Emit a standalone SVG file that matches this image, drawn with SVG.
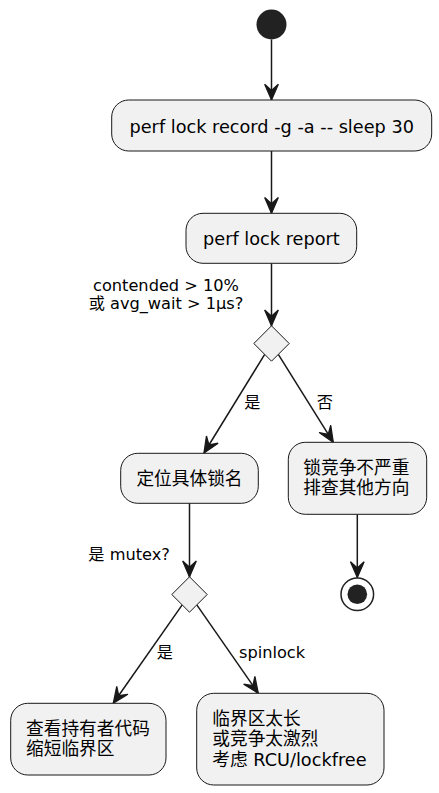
<svg xmlns="http://www.w3.org/2000/svg" width="439" height="793" viewBox="0 0 439 793">
<style>
  .node { fill: #F1F1F1; stroke: #181818; stroke-width: 1; }
  .t { font-family: "DejaVu Sans", "Noto Sans CJK SC", sans-serif; font-size: 17.7px; fill: #000000; }
  .lbl { font-family: "DejaVu Sans", "Noto Sans CJK SC", sans-serif; font-size: 16.2px; fill: #000000; }
  .edge { fill: none; stroke: #181818; stroke-width: 1.5; }
</style>
<defs>
  <marker id="arrow" markerUnits="userSpaceOnUse" markerWidth="20" markerHeight="20" viewBox="-17 -9 19 18" refX="0" refY="0" orient="auto">
    <path d="M0,0 L-15,-6.5 L-9,0 L-15,6.5 Z" fill="#181818" stroke="#181818" stroke-width="1.2" stroke-linejoin="miter"/>
  </marker>
</defs>
<rect width="439" height="793" fill="#FFFFFF"/>
<g id="connectors">
  <line class="edge" x1="271.5" y1="39.5" x2="271.5" y2="100" marker-end="url(#arrow)"/>
  <line class="edge" x1="271.5" y1="151" x2="271.5" y2="213.3" marker-end="url(#arrow)"/>
  <line class="edge" x1="271.5" y1="263.3" x2="271.5" y2="325.8" marker-end="url(#arrow)"/>
  <line class="edge" x1="264.7" y1="354.4" x2="204" y2="453" marker-end="url(#arrow)"/>
  <line class="edge" x1="278.3" y1="354.4" x2="333.3" y2="442.3" marker-end="url(#arrow)"/>
  <line class="edge" x1="189.5" y1="503.3" x2="189.5" y2="576.8" marker-end="url(#arrow)"/>
  <line class="edge" x1="357.3" y1="514.3" x2="357.3" y2="577.5" marker-end="url(#arrow)"/>
  <line class="edge" x1="182.2" y1="604.9" x2="113.3" y2="703.3" marker-end="url(#arrow)"/>
  <line class="edge" x1="196.8" y1="604.9" x2="258.3" y2="693.3" marker-end="url(#arrow)"/>
  <text class="lbl" x="166" y="290.7" text-anchor="middle">contended &gt; 10%</text>
  <text class="lbl" x="166" y="309.3" text-anchor="middle">或 avg_wait &gt; 1μs?</text>
  <text class="lbl" x="244.3" y="408">是</text>
  <text class="lbl" x="316.7" y="408">否</text>
  <text class="lbl" x="88.3" y="560">是 mutex?</text>
  <text class="lbl" x="156.7" y="658">是</text>
  <text class="lbl" x="239" y="658">spinlock</text>
</g>
<g id="start">
  <circle cx="271.5" cy="24.5" r="15" fill="#222222"/>
</g>
<g id="record">
  <rect class="node" x="111.7" y="100" width="320" height="51" rx="17" ry="17"/>
  <text class="t" x="271.7" y="133.3" text-anchor="middle">perf lock record -g -a -- sleep 30</text>
</g>
<g id="report">
  <rect class="node" x="186" y="213.3" width="170.7" height="50" rx="17" ry="17"/>
  <text class="t" x="271.4" y="245" text-anchor="middle">perf lock report</text>
</g>
<g id="decision1">
  <polygon class="node" points="271.5,325.8 289.2,343.5 271.5,361.2 253.8,343.5"/>
</g>
<g id="locate">
  <rect class="node" x="120.7" y="453.3" width="137.6" height="50" rx="17" ry="17"/>
  <text class="t" x="189.5" y="484.5" text-anchor="middle">定位具体锁名</text>
</g>
<g id="notsevere">
  <rect class="node" x="288.3" y="442.3" width="138.4" height="72" rx="17" ry="17"/>
  <text class="t" x="303.3" y="473.6">锁竞争不严重</text>
  <text class="t" x="303.3" y="494.2">排查其他方向</text>
</g>
<g id="end">
  <circle cx="357.3" cy="594.3" r="16.3" fill="#FFFFFF" stroke="#222222" stroke-width="1.5"/>
  <circle cx="357.3" cy="594.3" r="9.8" fill="#222222"/>
</g>
<g id="decision2">
  <polygon class="node" points="189.5,576.8 207.2,594.5 189.5,612.2 171.8,594.5"/>
</g>
<g id="mutex">
  <rect class="node" x="10.7" y="703.3" width="155.3" height="71.7" rx="17" ry="17"/>
  <text class="t" x="26" y="734.6">查看持有者代码</text>
  <text class="t" x="26" y="755.2">缩短临界区</text>
</g>
<g id="spin">
  <rect class="node" x="196.7" y="693.3" width="187.3" height="91.7" rx="17" ry="17"/>
  <text class="t" x="212.3" y="724.8">临界区太长</text>
  <text class="t" x="212.3" y="745.4">或竞争太激烈</text>
  <text class="t" x="212.3" y="766">考虑 RCU/lockfree</text>
</g>
</svg>
